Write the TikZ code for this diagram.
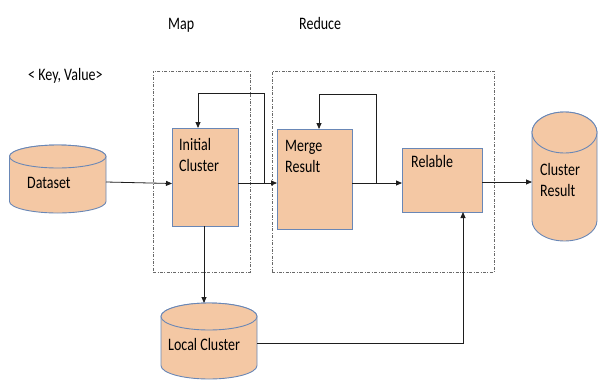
\documentclass[tikz,border=0pt]{standalone}
\usepackage{fontspec}
\setmainfont{Carlito}[FakeStretch=0.8]
\usetikzlibrary{arrows.meta,calc}
\definecolor{peach}{RGB}{244,200,164}
\definecolor{edgeblue}{RGB}{105,135,182}
\definecolor{dashgray}{RGB}{105,105,105}
\definecolor{linegray}{RGB}{30,30,30}
\newcommand\drawcyl[6]{%
  \pgfmathsetmacro\cylcx{(#2+#4)/2}%
  \pgfmathsetmacro\cylrx{(#4-#2)/2}%
  \pgfmathsetmacro\cylw{#4-#2}%
  \pgfmathsetmacro\cylh{#5-#3}%
  \node[inner sep=0pt,outer sep=0pt,minimum width=\cylw pt,minimum height=\cylh pt,anchor=north west] (#1) at (#2,-#3) {};
  \draw[cylbody] (#2,-#3-#6) -- (#2,-#5+#6) arc[start angle=180,end angle=360,x radius=\cylrx pt,y radius=#6 pt] -- (#4,-#3-#6) arc[start angle=0,end angle=180,x radius=\cylrx pt,y radius=#6 pt] -- cycle;
  \draw[cylbody] (\cylcx,-#3-#6) ellipse[x radius=\cylrx pt,y radius=#6 pt];
}
\begin{document}
\begin{tikzpicture}[x=1pt,y=1pt,
  procbox/.style={draw=edgeblue,fill=peach,line width=0.9pt,inner sep=0pt,outer sep=0pt,anchor=north west},
  cylbody/.style={draw=edgeblue,fill=peach,line width=0.9pt},
  dbox/.style={draw=dashgray,line width=0.8pt,dash pattern=on 3pt off 1.5pt on 0.8pt off 1.5pt,inner sep=0pt,outer sep=0pt,anchor=north west},
  arr/.style={draw=linegray,line width=0.8pt,-{Triangle[length=6pt,width=5pt]}},
  txt/.style={inner sep=0pt,anchor=base west,font=\fontsize{17.5}{21}\selectfont,align=left,text=black}]
\useasboundingbox (0,0) rectangle (598,-381);
% dashed stage frames
\node[dbox,minimum width=97pt,minimum height=201pt] (mapbox) at (153,-71) {};
\node[dbox,minimum width=222pt,minimum height=201pt] (redbox) at (272,-71) {};
% stage labels
\node[txt] (maplbl) at (168,-29) {Map};
\node[txt] (redlbl) at (299,-29) {Reduce};
\node[txt] (kvlbl) at (28,-80) {< Key, Value>};
% cylinders
\drawcyl{ds}{9.5}{145}{106}{213}{11.5}
\drawcyl{cr}{532}{112}{597}{241}{20.5}
\drawcyl{lc}{161}{303}{257}{379}{13.5}
% process boxes
\node[procbox,minimum width=66pt,minimum height=98pt] (ic) at (172,-128) {};
\node[procbox,minimum width=75pt,minimum height=100pt] (mr) at (277,-129) {};
\node[procbox,minimum width=80pt,minimum height=64pt] (rl) at (402,-148) {};
% texts (base anchor = baseline of last line)
\node[txt] (dstxt) at (27,-188) {Dataset};
\node[txt] (ictxt) at (179,-171) {Initial\\Cluster};
\node[txt] (mrtxt) at (285,-172) {Merge\\Result};
\node[txt] (rltxt) at (411,-167) {Relable};
\node[txt] (crtxt) at (540,-196) {Cluster\\Result};
\node[txt] (lctxt) at (168,-350) {Local Cluster};
% connectors
\coordinate (fb1) at (264,-183);
\coordinate (top1) at (264,-93);
\coordinate (fb2) at (376,-183);
\coordinate (top2) at (376,-94);
\draw[arr] ([yshift=-3pt]ds.east) -- ([yshift=-6.5pt]ic.west);
\draw[arr] ([yshift=-6pt]ic.east) -- ([yshift=-4pt]mr.west);
\draw[arr] (fb1) -- (top1) -| ([xshift=-7pt]ic.north);
\draw[arr] ([yshift=-4pt]mr.east) -- ([yshift=-3pt]rl.west);
\draw[arr] (fb2) -- (top2) -| ([xshift=4.5pt]mr.north);
\draw[arr] ([yshift=-2pt]rl.east) -- ([yshift=-5.5pt]cr.west);
\draw[arr] ([xshift=-1pt]ic.south) -- ([xshift=-5pt]lc.north);
\draw[arr] ([yshift=-2pt]lc.east) -| ([xshift=21pt]rl.south);
\end{tikzpicture}
\end{document}
